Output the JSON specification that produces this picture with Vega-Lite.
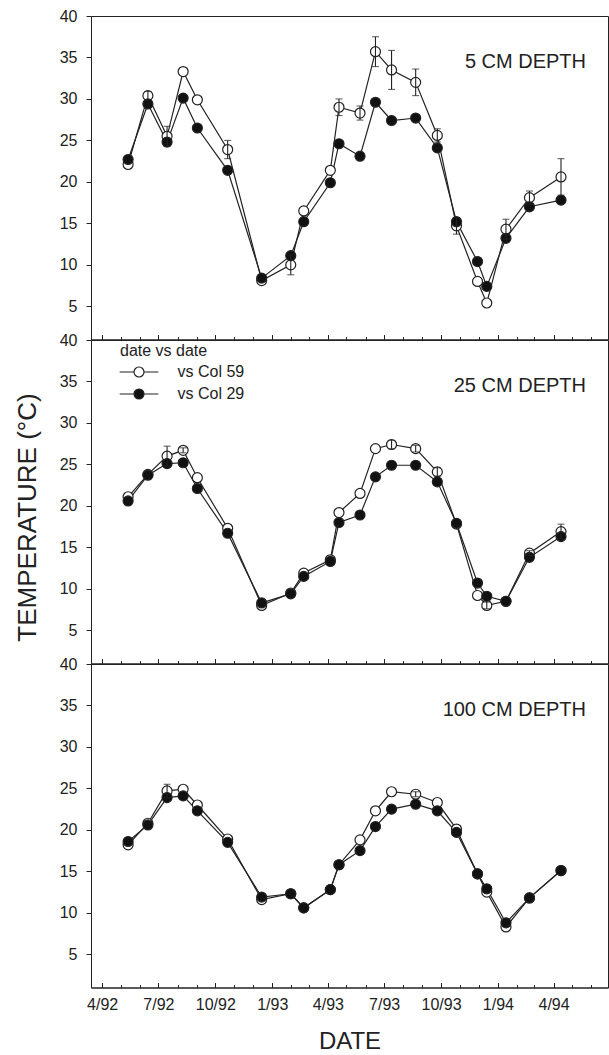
{
  "$schema": "https://vega.github.io/schema/vega-lite/v6.json",
  "padding": {"left": 13, "top": 7, "right": 0, "bottom": 0},
  "background": "white",
  "bounds": "flush",
  "spacing": 0,
  "config": {
    "font": "Liberation Sans",
    "view": {"stroke": "#222", "strokeWidth": 1},
    "axis": {
      "domainColor": "#222", "tickColor": "#222", "labelColor": "#222", "titleColor": "#222",
      "labelFont": "Liberation Sans", "titleFont": "Liberation Sans",
      "labelFontSize": 16, "titleFontSize": 24, "titleFontWeight": "normal",
      "grid": false, "labelFlush": false, "domainWidth": 1, "tickWidth": 1
    },
    "legend": {"labelFont": "Liberation Sans", "titleFont": "Liberation Sans"},
    "title": {"font": "Liberation Sans", "fontSize": 20, "fontWeight": "normal", "color": "#222", "anchor": "end", "frame": "group", "orient": "top", "offset": 0, "baseline": "middle", "dx": -22, "dy": 68}
  },
  "datasets": {
    "soil": [
      {"depth": "5", "date": "1992-05-13", "c59": 22.1, "c29": 22.7, "err": 0},
      {"depth": "5", "date": "1992-06-14", "c59": 30.4, "c29": 29.4, "err": 0.5},
      {"depth": "5", "date": "1992-07-15", "c59": 25.5, "c29": 24.8, "err": 1.2},
      {"depth": "5", "date": "1992-08-10", "c59": 33.3, "c29": 30.1, "err": 0},
      {"depth": "5", "date": "1992-09-02", "c59": 29.9, "c29": 26.5, "err": 0},
      {"depth": "5", "date": "1992-10-21", "c59": 23.9, "c29": 21.4, "err": 1.1},
      {"depth": "5", "date": "1992-12-15", "c59": 8.1, "c29": 8.4, "err": 0},
      {"depth": "5", "date": "1993-01-31", "c59": 10.0, "c29": 11.1, "err": 1.2},
      {"depth": "5", "date": "1993-02-21", "c59": 16.5, "c29": 15.2, "err": 0},
      {"depth": "5", "date": "1993-04-05", "c59": 21.4, "c29": 19.9, "err": 0},
      {"depth": "5", "date": "1993-04-19", "c59": 29.0, "c29": 24.6, "err": 1.0},
      {"depth": "5", "date": "1993-05-23", "c59": 28.3, "c29": 23.1, "err": 0.85},
      {"depth": "5", "date": "1993-06-17", "c59": 35.7, "c29": 29.6, "err": 1.8},
      {"depth": "5", "date": "1993-07-13", "c59": 33.5, "c29": 27.4, "err": 2.35},
      {"depth": "5", "date": "1993-08-21", "c59": 32.0, "c29": 27.7, "err": 1.6},
      {"depth": "5", "date": "1993-09-25", "c59": 25.6, "c29": 24.1, "err": 0.8},
      {"depth": "5", "date": "1993-10-26", "c59": 14.7, "c29": 15.2, "err": 1.0},
      {"depth": "5", "date": "1993-11-29", "c59": 8.0, "c29": 10.4, "err": 0},
      {"depth": "5", "date": "1993-12-14", "c59": 5.4, "c29": 7.4, "err": 0},
      {"depth": "5", "date": "1994-01-14", "c59": 14.3, "c29": 13.2, "err": 1.2},
      {"depth": "5", "date": "1994-02-21", "c59": 18.1, "c29": 17.0, "err": 0.8},
      {"depth": "5", "date": "1994-04-13", "c59": 20.6, "c29": 17.8, "err": 2.2},

      {"depth": "25", "date": "1992-05-13", "c59": 21.1, "c29": 20.6, "err": 0},
      {"depth": "25", "date": "1992-06-14", "c59": 23.8, "c29": 23.7, "err": 0},
      {"depth": "25", "date": "1992-07-15", "c59": 26.0, "c29": 25.1, "err": 1.2},
      {"depth": "25", "date": "1992-08-10", "c59": 26.7, "c29": 25.2, "err": 0.3},
      {"depth": "25", "date": "1992-09-02", "c59": 23.4, "c29": 22.1, "err": 0},
      {"depth": "25", "date": "1992-10-21", "c59": 17.3, "c29": 16.7, "err": 0},
      {"depth": "25", "date": "1992-12-15", "c59": 8.0, "c29": 8.3, "err": 0},
      {"depth": "25", "date": "1993-01-31", "c59": 9.5, "c29": 9.4, "err": 0},
      {"depth": "25", "date": "1993-02-21", "c59": 11.9, "c29": 11.5, "err": 0},
      {"depth": "25", "date": "1993-04-05", "c59": 13.5, "c29": 13.3, "err": 0},
      {"depth": "25", "date": "1993-04-19", "c59": 19.2, "c29": 18.0, "err": 0},
      {"depth": "25", "date": "1993-05-23", "c59": 21.5, "c29": 18.9, "err": 0},
      {"depth": "25", "date": "1993-06-17", "c59": 26.9, "c29": 23.5, "err": 0},
      {"depth": "25", "date": "1993-07-13", "c59": 27.4, "c29": 24.9, "err": 0.5},
      {"depth": "25", "date": "1993-08-21", "c59": 26.9, "c29": 24.9, "err": 0.4},
      {"depth": "25", "date": "1993-09-25", "c59": 24.1, "c29": 22.9, "err": 0.5},
      {"depth": "25", "date": "1993-10-26", "c59": 17.8, "c29": 17.9, "err": 0},
      {"depth": "25", "date": "1993-11-29", "c59": 9.2, "c29": 10.7, "err": 0},
      {"depth": "25", "date": "1993-12-14", "c59": 8.0, "c29": 9.1, "err": 0.4},
      {"depth": "25", "date": "1994-01-14", "c59": 8.5, "c29": 8.5, "err": 0},
      {"depth": "25", "date": "1994-02-21", "c59": 14.3, "c29": 13.8, "err": 0.3},
      {"depth": "25", "date": "1994-04-13", "c59": 16.9, "c29": 16.3, "err": 0.9},

      {"depth": "100", "date": "1992-05-13", "c59": 18.2, "c29": 18.6, "err": 0},
      {"depth": "100", "date": "1992-06-14", "c59": 20.8, "c29": 20.6, "err": 0},
      {"depth": "100", "date": "1992-07-15", "c59": 24.7, "c29": 23.9, "err": 0.8},
      {"depth": "100", "date": "1992-08-10", "c59": 24.9, "c29": 24.1, "err": 0},
      {"depth": "100", "date": "1992-09-02", "c59": 23.0, "c29": 22.3, "err": 0},
      {"depth": "100", "date": "1992-10-21", "c59": 18.9, "c29": 18.5, "err": 0},
      {"depth": "100", "date": "1992-12-15", "c59": 11.6, "c29": 11.9, "err": 0},
      {"depth": "100", "date": "1993-01-31", "c59": 12.3, "c29": 12.3, "err": 0},
      {"depth": "100", "date": "1993-02-21", "c59": 10.6, "c29": 10.6, "err": 0},
      {"depth": "100", "date": "1993-04-05", "c59": 12.8, "c29": 12.8, "err": 0},
      {"depth": "100", "date": "1993-04-19", "c59": 15.8, "c29": 15.8, "err": 0},
      {"depth": "100", "date": "1993-05-23", "c59": 18.8, "c29": 17.5, "err": 0},
      {"depth": "100", "date": "1993-06-17", "c59": 22.3, "c29": 20.4, "err": 0},
      {"depth": "100", "date": "1993-07-13", "c59": 24.6, "c29": 22.5, "err": 0},
      {"depth": "100", "date": "1993-08-21", "c59": 24.3, "c29": 23.1, "err": 0.3},
      {"depth": "100", "date": "1993-09-25", "c59": 23.3, "c29": 22.3, "err": 0},
      {"depth": "100", "date": "1993-10-26", "c59": 20.1, "c29": 19.7, "err": 0},
      {"depth": "100", "date": "1993-11-29", "c59": 14.7, "c29": 14.7, "err": 0},
      {"depth": "100", "date": "1993-12-14", "c59": 12.5, "c29": 12.9, "err": 0},
      {"depth": "100", "date": "1994-01-14", "c59": 8.3, "c29": 8.8, "err": 0},
      {"depth": "100", "date": "1994-02-21", "c59": 11.8, "c29": 11.8, "err": 0},
      {"depth": "100", "date": "1994-04-13", "c59": 15.1, "c29": 15.1, "err": 0}
    ]
  },
  "resolve": {"scale": {"fill": "independent"}, "legend": {"fill": "independent"}},
  "vconcat": [
    {
      "width": 517, "height": 323.5,
      "title": {"text": "5 CM DEPTH"},
      "data": {"name": "soil"},
      "transform": [{"filter": "datum.depth == '5'"}, {"fold": ["c59", "c29"], "as": ["series", "temp"]}],
      "encoding": {
        "x": {"field": "date", "type": "temporal", "title": null,
          "scale": {"domain": [{"year": 1992, "month": 3, "date": 14}, {"year": 1994, "month": 6, "date": 28}]},
          "axis": {"labels": false, "tickCount": {"interval": "month", "step": 1},
            "tickSize": {"condition": {"test": "month(datum.value) % 3 == 0", "value": -5}, "value": -3}}},
        "y": {"field": "temp", "type": "quantitative", "title": null,
          "scale": {"domain": [1, 40], "nice": false, "zero": false},
          "axis": {"values": [5, 10, 15, 20, 25, 30, 35, 40], "tickSize": 5, "labelPadding": 9}}
      },
      "layer": [
        {"mark": {"type": "line", "color": "#222", "strokeWidth": 1.2}, "encoding": {"detail": {"field": "series"}}},
        {"mark": {"type": "point", "shape": "circle", "size": 100, "stroke": "#222", "strokeWidth": 1.2, "opacity": 1},
          "encoding": {"fill": {"field": "series", "type": "nominal", "scale": {"domain": ["c59", "c29"], "range": ["white", "#111"]}, "legend": null}}},
        {"transform": [{"filter": "datum.series == 'c59' && datum.err > 0"}],
          "mark": {"type": "errorbar", "color": "#222", "thickness": 1.1, "ticks": {"size": 7, "thickness": 1.1}},
          "encoding": {"yError": {"field": "err"}}}
      ]
    },
    {
      "width": 517, "height": 323.5,
      "title": {"text": "25 CM DEPTH"},
      "data": {"name": "soil"},
      "transform": [{"filter": "datum.depth == '25'"}, {"fold": ["c59", "c29"], "as": ["series", "temp"]}],
      "encoding": {
        "x": {"field": "date", "type": "temporal", "title": null,
          "scale": {"domain": [{"year": 1992, "month": 3, "date": 14}, {"year": 1994, "month": 6, "date": 28}]},
          "axis": {"labels": false, "tickCount": {"interval": "month", "step": 1},
            "tickSize": {"condition": {"test": "month(datum.value) % 3 == 0", "value": -5}, "value": -3}}},
        "y": {"field": "temp", "type": "quantitative", "title": "TEMPERATURE (°C)",
          "scale": {"domain": [1, 40], "nice": false, "zero": false},
          "axis": {"values": [5, 10, 15, 20, 25, 30, 35, 40], "tickSize": 5, "labelPadding": 9, "titlePadding": 19, "titleFontSize": 26, "titleY": 177}}
      },
      "layer": [
        {"mark": {"type": "line", "color": "#222", "strokeWidth": 1.2}, "encoding": {"detail": {"field": "series"}}},
        {"mark": {"type": "point", "shape": "circle", "size": 100, "stroke": "#222", "strokeWidth": 1.2, "opacity": 1},
          "encoding": {"fill": {"field": "series", "type": "nominal", "scale": {"domain": ["c59", "c29"], "range": ["white", "#111"]},
            "legend": {"orient": "none", "legendX": 29, "legendY": 3, "padding": 0, "direction": "vertical",
              "title": "date vs date", "titleFontSize": 16, "titleFontWeight": "normal", "titleColor": "#222", "titlePadding": 5,
              "labelFontSize": 16, "labelColor": "#222", "labelExpr": "datum.label == 'c59' ? 'vs Col 59' : 'vs Col 29'",
              "symbolType": "M-3.1,0H-0.8M0.8,0H3.1M-0.8,0A0.8,0.8,0,1,0,0.8,0A0.8,0.8,0,1,0,-0.8,0Z",
              "symbolSize": 156, "symbolStrokeColor": "#222", "symbolStrokeWidth": 1.2, "symbolOffset": 11,
              "labelOffset": 30.5, "rowPadding": 6}}}},
        {"transform": [{"filter": "datum.series == 'c59' && datum.err > 0"}],
          "mark": {"type": "errorbar", "color": "#222", "thickness": 1.1, "ticks": {"size": 7, "thickness": 1.1}},
          "encoding": {"yError": {"field": "err"}}}
      ]
    },
    {
      "width": 517, "height": 323.5,
      "title": {"text": "100 CM DEPTH"},
      "data": {"name": "soil"},
      "transform": [{"filter": "datum.depth == '100'"}, {"fold": ["c59", "c29"], "as": ["series", "temp"]}],
      "encoding": {
        "x": {"field": "date", "type": "temporal", "title": "DATE",
          "scale": {"domain": [{"year": 1992, "month": 3, "date": 14}, {"year": 1994, "month": 6, "date": 28}]},
          "axis": {"tickCount": {"interval": "month", "step": 1},
            "tickSize": {"condition": {"test": "month(datum.value) % 3 == 0", "value": -5}, "value": -3},
            "labelExpr": "month(datum.value) % 3 == 0 ? timeFormat(datum.value, '%-m/%y') : ''",
            "labelPadding": 14, "titlePadding": 17}},
        "y": {"field": "temp", "type": "quantitative", "title": null,
          "scale": {"domain": [1, 40], "nice": false, "zero": false},
          "axis": {"values": [5, 10, 15, 20, 25, 30, 35, 40], "tickSize": 5, "labelPadding": 9}}
      },
      "layer": [
        {"mark": {"type": "line", "color": "#222", "strokeWidth": 1.2}, "encoding": {"detail": {"field": "series"}}},
        {"mark": {"type": "point", "shape": "circle", "size": 100, "stroke": "#222", "strokeWidth": 1.2, "opacity": 1},
          "encoding": {"fill": {"field": "series", "type": "nominal", "scale": {"domain": ["c59", "c29"], "range": ["white", "#111"]}, "legend": null}}},
        {"transform": [{"filter": "datum.series == 'c59' && datum.err > 0"}],
          "mark": {"type": "errorbar", "color": "#222", "thickness": 1.1, "ticks": {"size": 7, "thickness": 1.1}},
          "encoding": {"yError": {"field": "err"}}}
      ]
    }
  ]
}
